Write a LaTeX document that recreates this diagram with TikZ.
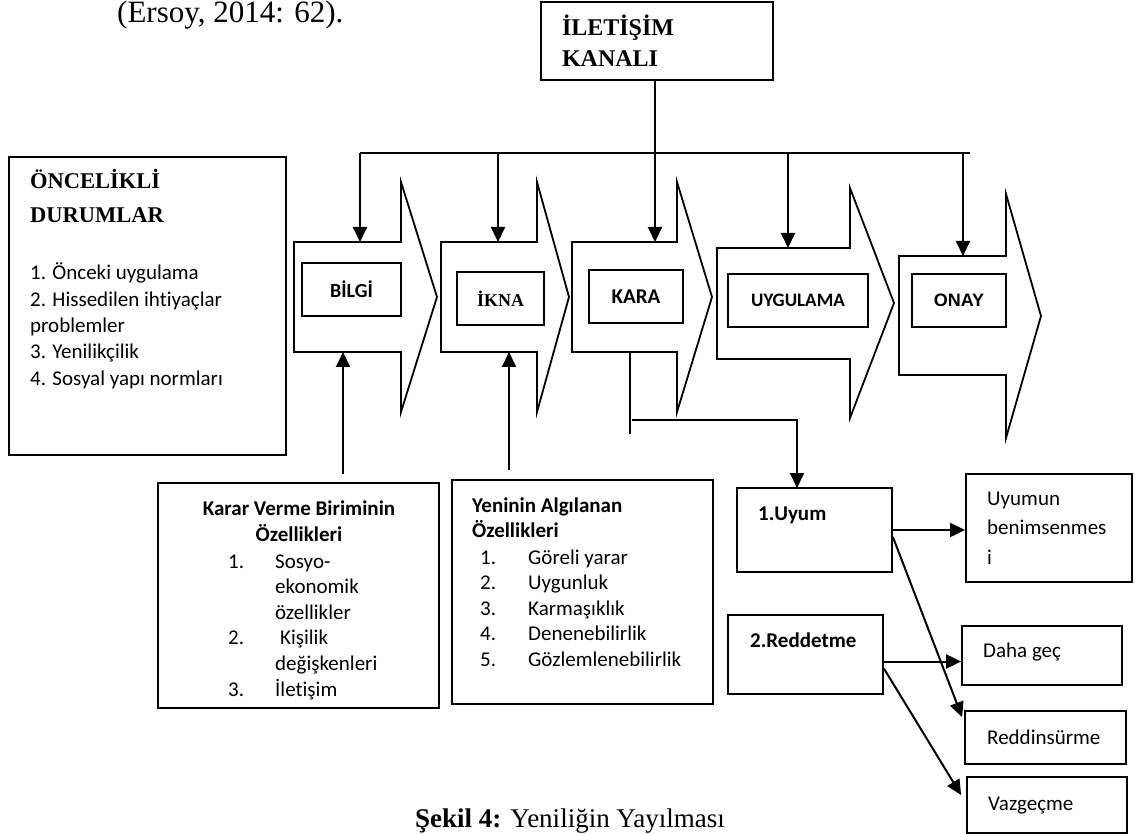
\documentclass[tikz,border=0pt]{standalone}
\usepackage{fontspec}
\setmainfont{Liberation Serif}
\newfontfamily\calibri[Ligatures=NoCommon]{Carlito}
\newfontfamily\arial{Liberation Sans}
\usepackage{tikz}
\usetikzlibrary{arrows.meta}
\tikzstyle{tsLine} = [ 
    draw=black, 
    line width=2pt
]
\tikzstyle{tsArrow} = [ 
    tsLine, 
    -{Triangle[length=15pt,width=14pt]}
]
\tikzstyle{tsChevron} = [ 
    draw=black, 
    line width=1.8pt,
    line join=miter
]
\tikzstyle{tsRectangle} = [ 
    rectangle,
    draw=black,
    line width=1.8pt,
    inner sep=0pt
]
\tikzstyle{tsStep} = [ 
    tsRectangle,
    text=black,
    font=\calibri\bfseries\fontsize{20}{24}\selectfont
]
\tikzstyle{tsText} = [ 
    text=black,
    anchor=base west,
    inner sep=0pt,
    font=\calibri\fontsize{21}{25.6}\selectfont
]

\begin{document}
\begin{tikzpicture}[x=1pt, y=-1pt]

    \useasboundingbox (0,0) rectangle (1136,834);

    \node[tsText, font=\fontsize{31}{36}\selectfont] (ersoy) at (117,23) {(Ersoy, 2014: 62).};

    \node[  tsRectangle,
            minimum width=232pt,
            minimum height=78pt,
            text width=190pt,
            align=left,
            font=\bfseries\fontsize{24}{31}\selectfont] (kanal) at (657,41) {İLETİŞİM\\KANALI};

    % left box
    \node[  tsRectangle,
            minimum width=277pt,
            minimum height=298pt] (oncelik) at (147.5,306) {};
    \node[tsText, font=\bfseries\fontsize{22.5}{34}\selectfont] (oncelikHead) at (30,189)
        {\begin{tabular}[t]{@{}l@{}}ÖNCELİKLİ\\DURUMLAR\end{tabular}};
    \node[tsText, font=\calibri\fontsize{21}{26.3}\selectfont] (oncelikList) at (30,280)
        {\begin{tabular}[t]{@{}l@{}}1. Önceki uygulama\\2. Hissedilen ihtiyaçlar\\problemler\\3. Yenilikçilik\\4. Sosyal yapı normları\end{tabular}};

    % chevrons
    \draw[tsChevron] (294,242) -- (401,242) -- (401,182) -- (437,297) -- (401,412) -- (401,352) -- (294,352) -- cycle;
    \draw[tsChevron] (441,242) -- (537,242) -- (537,182) -- (569,297) -- (537,412) -- (537,352) -- (441,352) -- cycle;
    \draw[tsChevron] (572,242) -- (677,242) -- (677,182) -- (712,297) -- (677,412) -- (677,352) -- (572,352) -- cycle;
    \draw[tsChevron] (717,248) -- (850,248) -- (850,188) -- (894,303) -- (850,418) -- (850,359) -- (717,359) -- cycle;
    \draw[tsChevron] (899,256) -- (1006,256) -- (1006,194) -- (1041,316) -- (1006,438) -- (1006,375) -- (899,375) -- cycle;

    \node[tsStep, minimum width=99pt, minimum height=53pt] (bilgi) at (351.5,289.5) {BİLGİ};
    \node[tsStep, minimum width=87pt, minimum height=53pt,
          font=\bfseries\fontsize{18}{22}\selectfont] (ikna) at (500.5,298.5) {İKNA};
    \node[tsStep, minimum width=94pt, minimum height=53pt,
          font=\calibri\bfseries\fontsize{21}{25}\selectfont] (kara) at (636,296.5) {KARA};
    \node[tsStep, minimum width=140pt, minimum height=53pt,
          font=\calibri\bfseries\fontsize{19}{23}\selectfont] (uygulama) at (798,300.5) {UYGULAMA};
    \node[tsStep, minimum width=94pt, minimum height=53pt,
          font=\arial\bfseries\fontsize{18}{22}\selectfont] (onay) at (959,300.5) {ONAY};

    \coordinate (bilgiTop) at (360,242);
    \coordinate (iknaTop) at (498,242);
    \coordinate (karaTop) at (655,242);
    \coordinate (uygTop) at (788,248);
    \coordinate (onayTop) at (963,256);
    \coordinate (bilgiBot) at (343,352);
    \coordinate (iknaBot) at (509,352);
    \coordinate (busL) at (360,153);
    \coordinate (busR) at (970,153);

    \draw[tsLine] (busL) -- (busR);
    \draw[tsArrow] (busL) -- (bilgiTop);
    \draw[tsArrow] (busL -| iknaTop) -- (iknaTop);
    \draw[tsArrow] (kanal.south -| karaTop) -- (karaTop);
    \draw[tsArrow] (busL -| uygTop) -- (uygTop);
    \draw[tsArrow] (busL -| onayTop) -- (onayTop);

    % bottom boxes
    \node[  tsRectangle,
            minimum width=281pt,
            minimum height=225pt] (karar) at (298.5,595.5) {};
    \node[tsText, anchor=base, font=\calibri\bfseries\fontsize{21}{26}\selectfont] (kararHead) at (299,515)
        {\begin{tabular}[t]{@{}c@{}}Karar Verme Biriminin\\Özellikleri\end{tabular}};
    \node[tsText] (kararList) at (228,568)
        {\begin{tabular}[t]{@{}p{47pt}@{}l@{}}1. & Sosyo-\\ & ekonomik\\ & özellikler\\2. & \hspace*{5pt}Kişilik\\ & değişkenleri\\3. & İletişim\end{tabular}};

    \node[  tsRectangle,
            minimum width=261pt,
            minimum height=224pt] (yenilik) at (582.5,592) {};
    \node[tsText, font=\calibri\bfseries\fontsize{21}{25.5}\selectfont] (yenilikHead) at (472,512)
        {\begin{tabular}[t]{@{}l@{}}Yeninin Algılanan\\Özellikleri\end{tabular}};
    \node[tsText] (yenilikList) at (480,564)
        {\begin{tabular}[t]{@{}p{48pt}@{}l@{}}1. & Göreli yarar\\2. & Uygunluk\\3. & Karmaşıklık\\4. & Denenebilirlik\\5. & Gözlemlenebilirlik\end{tabular}};

    \coordinate (kararTop) at (343,474);
    \coordinate (yenilikTop) at (509,470);
    \draw[tsArrow] (kararTop) -- (bilgiBot);
    \draw[tsArrow] (yenilikTop) -- (iknaBot);

    % decision outcomes
    \node[tsRectangle, minimum width=155pt, minimum height=84pt] (uyum) at (814.5,530) {};
    \node[tsText, font=\calibri\bfseries\fontsize{21}{25}\selectfont] (uyumText) at (758,520) {1.Uyum};
    \node[tsRectangle, minimum width=166pt, minimum height=108pt] (uyumun) at (1049,528) {};
    \node[tsText, font=\calibri\fontsize{21}{29.5}\selectfont] (uyumunText) at (987,505)
        {\begin{tabular}[t]{@{}l@{}}Uyumun\\benimsenmes\\i\end{tabular}};
    \node[tsRectangle, minimum width=155pt, minimum height=79pt] (redd) at (805.5,654.5) {};
    \node[tsText, font=\calibri\bfseries\fontsize{21}{25}\selectfont] (reddText) at (750,647) {2.Reddetme};
    \node[tsRectangle, minimum width=160pt, minimum height=59pt] (dahagec) at (1042,655.5) {};
    \node[tsText] (dahagecText) at (983,657) {Daha geç};
    \node[tsRectangle, minimum width=161pt, minimum height=53pt] (reddin) at (1045.5,737.5) {};
    \node[tsText] (reddinText) at (987,744) {Reddinsürme};
    \node[tsRectangle, minimum width=160pt, minimum height=56pt] (vazgec) at (1047,805) {};
    \node[tsText] (vazgecText) at (988,810) {Vazgeçme};

    \coordinate (karaOut) at (630,352);
    \coordinate (karaEnd) at (630,434);
    \coordinate (karaTurn) at (632,420);
    \coordinate (uyumIn) at (797,488);
    \draw[tsLine, line width=1.6pt] (karaOut) -- (karaEnd);
    \draw[tsArrow] (karaTurn) -- (karaTurn -| uyumIn) -- (uyumIn);

    \draw[tsArrow] (uyum.east) -- (uyum.east -| uyumun.west);
    \draw[tsArrow] ([yshift=-7pt]uyum.east) -- ([xshift=-2pt,yshift=-7pt]reddin.north west);
    \draw[tsArrow] ([yshift=-7pt]redd.east) -- ([yshift=-7pt]redd.east -| dahagec.west);
    \draw[tsArrow] ([yshift=-14pt]redd.east) -- ([xshift=-5pt,yshift=10pt]vazgec.west);

    \node[tsText, font=\fontsize{27}{32}\selectfont] (caption) at (415,827) {\textbf{Şekil 4:} Yeniliğin Yayılması};

\end{tikzpicture}
\end{document}
